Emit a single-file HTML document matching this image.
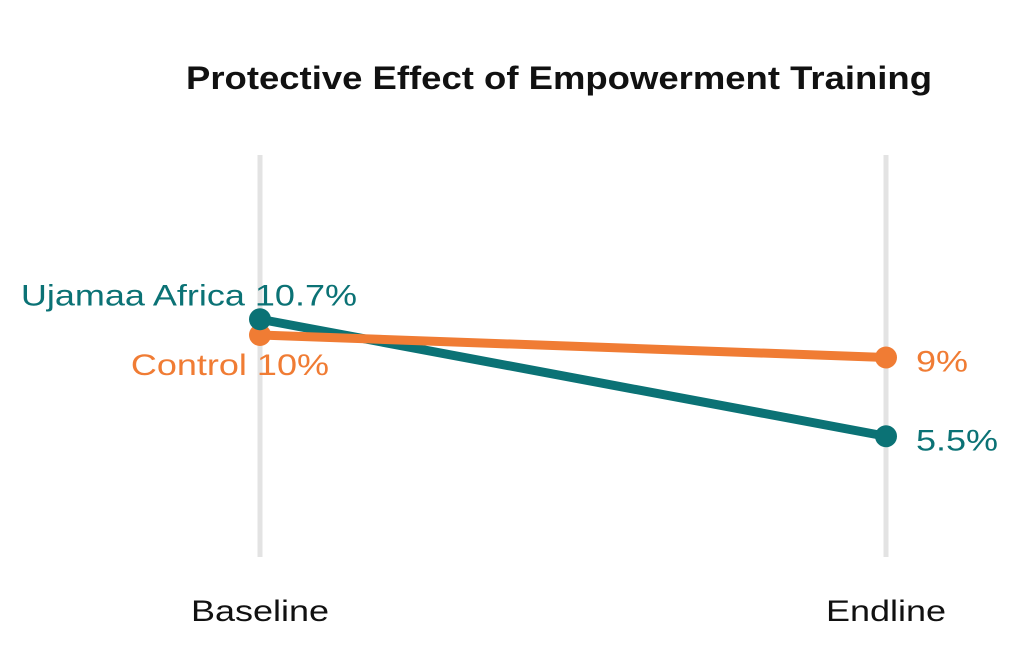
<!DOCTYPE html>
<html><head><meta charset="utf-8"><style>
html,body{margin:0;padding:0;background:#fff;}
svg{display:block;font-family:"Liberation Sans",sans-serif;}
</style></head><body>
<svg id="chart" width="1035" height="660" viewBox="0 0 1035 660">
<text x="186" y="89" textLength="746" lengthAdjust="spacingAndGlyphs" font-size="32" font-weight="bold" fill="#111">Protective Effect of Empowerment Training</text>
<g id="axes"></g>
<g id="series"></g>
</svg>
<script>
const categories = ["Baseline", "Endline"];
const seriesNames = ["Control", "Ujamaa Africa"];
const controlValues = [10, 9];
const ujamaaValues = [10.7, 5.5];
const yDomain = [0, 18];

const NS = "http://www.w3.org/2000/svg";
const xPos = [260, 886];
function x(i){ return xPos[0] + (xPos[1]-xPos[0]) * i / (categories.length-1); }
function y(v){ return 560 - (v - yDomain[0]) / (yDomain[1]-yDomain[0]) * 405; }
function mk(tag, attrs, parent){ const e=document.createElementNS(NS,tag); for(const k in attrs) e.setAttribute(k,attrs[k]); parent.appendChild(e); return e; }
function fmt(v){ return (Math.round(v*10)/10) + "%"; }
const SCALE = 1.2;
function fit(t){ try{ const w=t.getComputedTextLength(); t.setAttribute("textLength", w*SCALE); t.setAttribute("lengthAdjust","spacingAndGlyphs"); }catch(e){} }
function fitEnd(t, endX){ try{ const w=t.getComputedTextLength()*SCALE; t.setAttribute("text-anchor","start"); t.setAttribute("x", endX - w); t.setAttribute("textLength", w); t.setAttribute("lengthAdjust","spacingAndGlyphs"); }catch(e){} }
function fitMid(t, cx){ try{ const w=t.getComputedTextLength()*SCALE; t.setAttribute("text-anchor","start"); t.setAttribute("x", cx - w/2); t.setAttribute("textLength", w); t.setAttribute("lengthAdjust","spacingAndGlyphs"); }catch(e){} }

const axes = document.getElementById("axes");
categories.forEach((c,i)=>{
  const l = mk("line",{x1:x(i),x2:x(i),y1:y(yDomain[1]),y2:y(yDomain[0])-3,stroke:"#e3e3e3","stroke-width":5},axes);
  
  
  const t = mk("text",{x:x(i),y:621,"font-size":30,fill:"#111"},axes);
  t.textContent = c;
  
  
  fitMid(t, x(i));
});

const g = document.getElementById("series");
const defs = [
  {name:"Ujamaa Africa", vals:ujamaaValues, color:"#0b7275", dy:[-14, 14], endOff:97},
  {name:"Control", vals:controlValues, color:"#f07c34", dy:[40, 14], endOff:69}
];
defs.forEach(s=>{
  const ln = mk("line",{x1:x(0),y1:y(s.vals[0]),x2:x(1),y2:y(s.vals[1]),stroke:s.color,"stroke-width":9,"stroke-linecap":"round"},g);
  
  
});
defs.slice().reverse().forEach(s=>{
  s.vals.forEach((v,i)=>{
    const c = mk("circle",{cx:x(i),cy:y(v),r:11,fill:s.color},g);
    
    
  });
  const t0 = mk("text",{x:x(0),y:y(s.vals[0])+s.dy[0],"font-size":30,fill:s.color},g);
  t0.textContent = s.name + " " + fmt(s.vals[0]);
  
  
  fitEnd(t0, x(0)+s.endOff);
  const t1 = mk("text",{x:x(1)+30,y:y(s.vals[1])+s.dy[1],"text-anchor":"start","font-size":30,fill:s.color},g);
  t1.textContent = fmt(s.vals[1]);
  
  
  fit(t1);
});
</script>
</body></html>
